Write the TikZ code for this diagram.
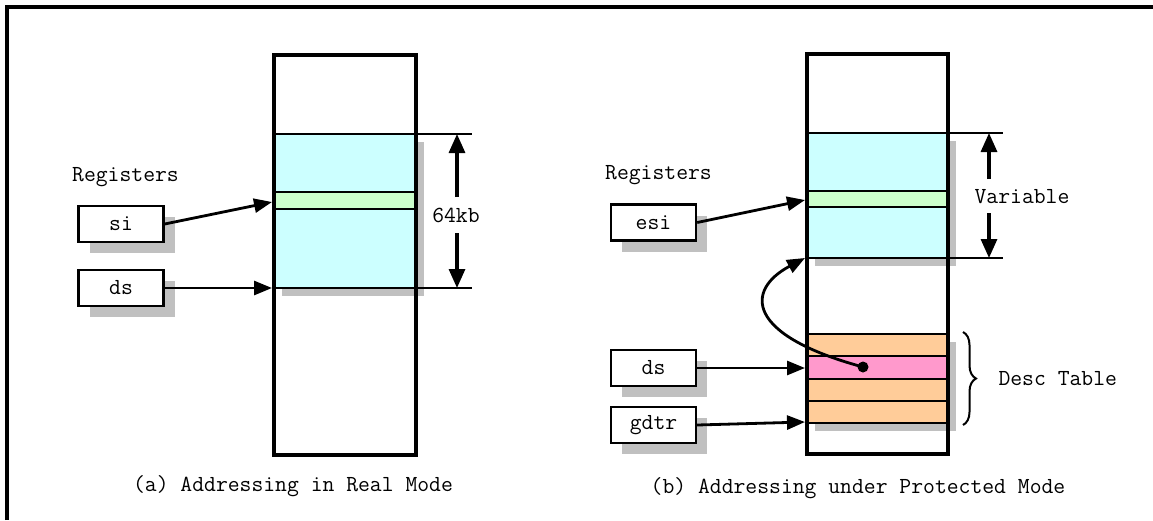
\documentclass[tikz,border=0pt]{standalone}
\usepackage{fontspec}
\usetikzlibrary{arrows.meta,shadows,decorations.pathreplacing,positioning,calc}
\definecolor{segcyan}{RGB}{204,255,255}
\definecolor{seggreen}{RGB}{204,255,204}
\definecolor{descorange}{RGB}{255,204,153}
\definecolor{descpink}{RGB}{255,153,204}
\definecolor{shadowgray}{RGB}{192,192,192}
\tikzset{
  regbox/.style={draw,line width=2.4pt,fill=white,minimum width=85pt,minimum height=36pt,inner sep=0pt,
    drop shadow={shadow xshift=11pt,shadow yshift=-11pt,fill=shadowgray,opacity=1}},
  segbox/.style={draw,line width=2pt},
  segshadow/.style={drop shadow={shadow xshift=8pt,shadow yshift=-8pt,fill=shadowgray,opacity=1}},
  memcol/.style={draw,line width=4.5pt},
  dimline/.style={line width=1.8pt},
  dimarrow/.style={line width=3.2pt,-{Triangle[length=19pt,width=16pt]}},
  ptr/.style={line width=2.8pt,-{Triangle[length=18pt,width=14pt]}},
}
\begin{document}
\begin{tikzpicture}[x=1pt,y=-1pt,font=\ttfamily\fontsize{23}{27}\selectfont]
\useasboundingbox (0,0) rectangle (1153,520);
% Frame
\draw[line width=3.5pt] (7,520) -- (7,7) -- (1153,7);

% (a) Real mode: segment
\draw[segbox,segshadow,fill=segcyan] (274,134) rectangle (416,288);
\draw[segbox,fill=seggreen] (274,192) rectangle (416,209);
\draw[memcol] (274,55) rectangle (416,455);

% Registers
\node[anchor=west,inner sep=0pt] (regsA) at (72,177) {Registers};
\node[regbox] (si) at (121,224) {si};
\node[regbox] (dsA) at (121,288) {ds};
\coordinate (siin) at (272,202);
\coordinate (dsin) at (272,288);
\draw[ptr] (si.east) -- (siin);
\draw[ptr] (dsA.east) -- (dsin);

% 64kb
\draw[dimline] (416,134) -- (472,134);
\draw[dimline] (416,288) -- (472,288);
\coordinate (topA) at (457,134);
\coordinate (botA) at (457,288);
\node (lenA) at (456,215) {64kb};
\draw[dimarrow] (457,197) -- (topA);
\draw[dimarrow] (457,233) -- (botA);

\node (capA) at (293,486) {(a) Addressing in Real Mode};

% (b) Protected mode: segment
\draw[segbox,segshadow,fill=segcyan] (807,133) rectangle (948,258);
\draw[segbox,fill=seggreen] (807,191) rectangle (948,207);
% Desc table
\foreach \i/\c in {0/descorange,1/descpink,2/descorange,3/descorange} {
  \draw[segbox,segshadow,fill=\c] (807,{334+\i*22.25}) rectangle (948,{356.25+\i*22.25});
}
\draw[memcol] (807,54) rectangle (948,454);

% Registers
\node[anchor=west,inner sep=0pt] (regsB) at (605,175) {Registers};
\node[regbox] (esi) at (653.5,222.5) {esi};
\node[regbox] (dsB) at (653.5,368) {ds};
\node[regbox] (gdtr) at (653.5,425) {gdtr};
\coordinate (esiin) at (805,200);
\coordinate (dsBin) at (805,368);
\coordinate (gdtrin) at (805,422);
\draw[ptr] (esi.east) -- (esiin);
\draw[ptr] (dsB.east) -- (dsBin);
\draw[ptr] (gdtr.east) -- (gdtrin);

% descriptor -> segment base
\coordinate (descdot) at (863,367);
\coordinate (segbase) at (805,258);
\fill (descdot) circle (5.5pt);
\draw[ptr] (descdot) .. controls (745,335) and (745,290) .. (segbase);

% Variable
\draw[dimline] (948,133) -- (1003,133);
\draw[dimline] (948,258) -- (1003,258);
\coordinate (topB) at (989,133);
\coordinate (botB) at (989,258);
\node (lenB) at (1022,197) {Variable};
\draw[dimarrow] (989,179) -- (topB);
\draw[dimarrow] (989,213) -- (botB);

% Brace
\draw[line width=2pt,decorate,decoration={brace,amplitude=13pt}] (963,332) -- (963,425);
\node[anchor=west] (descB) at (995,379) {Desc Table};

\node (capB) at (858,488) {(b) Addressing under Protected Mode};
\end{tikzpicture}
\end{document}
